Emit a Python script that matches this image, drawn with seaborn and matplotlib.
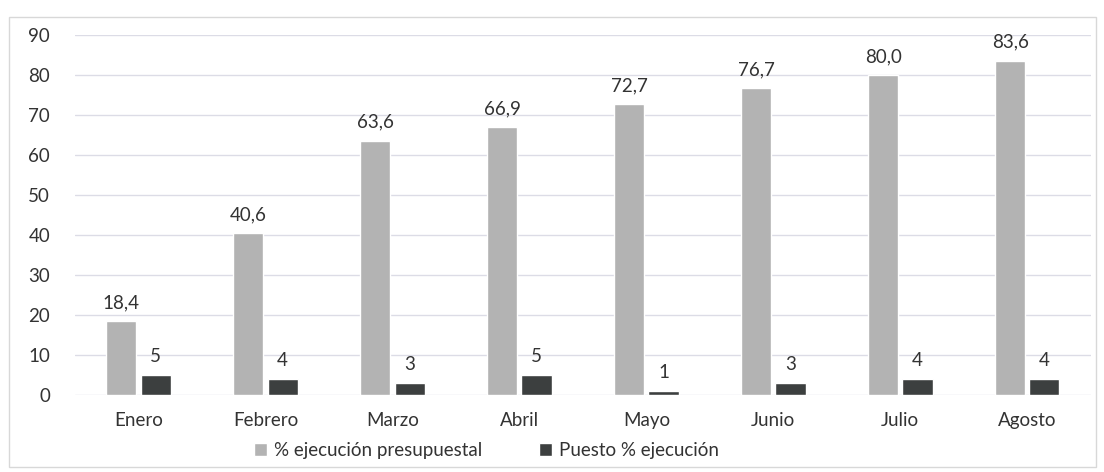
import seaborn as sns
import matplotlib.pyplot as plt
import pandas as pd

# Data
meses = ['Enero', 'Febrero', 'Marzo', 'Abril', 'Mayo', 'Junio', 'Julio', 'Agosto']
ejecucion = [18.4, 40.6, 63.6, 66.9, 72.7, 76.7, 80.0, 83.6]
puesto = [5, 4, 3, 5, 1, 3, 4, 4]
serie_1 = '% ejecución presupuestal'
serie_2 = 'Puesto % ejecución'

df = pd.DataFrame({
    'Mes': meses * 2,
    'Valor': ejecucion + puesto,
    'Serie': [serie_1] * len(meses) + [serie_2] * len(meses),
})

sns.set_style('white')
plt.rcParams['font.family'] = ['Lato', 'DejaVu Sans']

fig = plt.figure(figsize=(11.04, 4.72), dpi=100)
ax = fig.add_axes([0.068, 0.163, 0.92, 0.763])

sns.barplot(data=df, x='Mes', y='Valor', hue='Serie', order=meses,
            palette=['#b3b3b3', '#3b4040'], width=0.54, gap=0.12,
            ax=ax, legend=True)

# Data labels
for cont, fmt in zip(ax.containers, ['{:.1f}', '{:.0f}']):
    labels = [fmt.format(v).replace('.', ',') for v in cont.datavalues]
    ax.bar_label(cont, labels=labels, padding=7, fontsize=13.5, color='#333333')

ax.set_ylim(0, 90)
ax.set_yticks(range(0, 91, 10))
ax.yaxis.grid(True, color='#dcdce6', linewidth=1)
ax.set_axisbelow(True)
ax.set_xlabel('')
ax.set_ylabel('')
for s in ax.spines.values():
    s.set_visible(False)
ax.tick_params(axis='both', length=0, labelsize=13.5, colors='#333333')
ax.tick_params(axis='y', pad=18)
ax.tick_params(axis='x', pad=12)

ax.legend(loc='center', bbox_to_anchor=(0.405, -0.155), ncol=2,
          frameon=False, fontsize=13.5, handlelength=0.7, handleheight=0.7,
          columnspacing=3.0, handletextpad=0.4, labelcolor='#333333',
          borderpad=0)

# light outer frame like the original chart area
fig.patches.append(plt.Rectangle((0.008, 0.01), 0.985, 0.955, transform=fig.transFigure,
                                 fill=False, edgecolor='#d8d8d8', linewidth=1))

plt.savefig('out.png', dpi=100)
